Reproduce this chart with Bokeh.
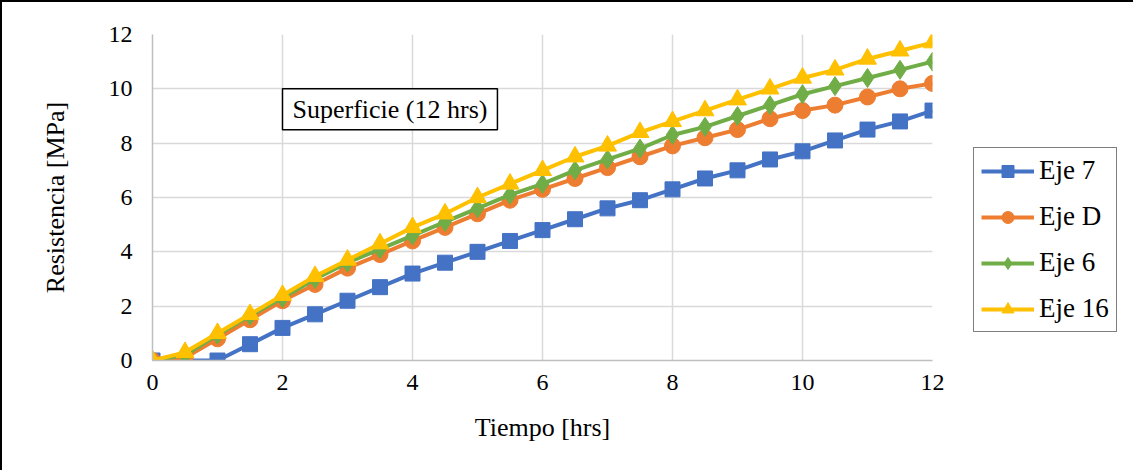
from bokeh.plotting import figure
from bokeh.models import Range1d, FixedTicker, Legend, LegendItem, Label
from bokeh.embed import file_html
from bokeh.resources import INLINE

# ---- data ----
tiempo = [0, 0.5, 1, 1.5, 2, 2.5, 3, 3.5, 4, 4.5, 5, 5.5, 6, 6.5, 7, 7.5, 8, 8.5, 9, 9.5, 10, 10.5, 11, 11.5, 12]
eje_7 = [0, 0, 0, 0.6, 1.2, 1.7, 2.2, 2.7, 3.2, 3.6, 4.0, 4.4, 4.8, 5.2, 5.6, 5.9, 6.3, 6.7, 7.0, 7.4, 7.7, 8.1, 8.5, 8.8, 9.2]
eje_d = [0, 0.1, 0.8, 1.5, 2.2, 2.8, 3.4, 3.9, 4.4, 4.9, 5.4, 5.9, 6.3, 6.7, 7.1, 7.5, 7.9, 8.2, 8.5, 8.9, 9.2, 9.4, 9.7, 10.0, 10.2]
eje_6 = [0, 0.2, 0.95, 1.65, 2.3, 3.0, 3.6, 4.1, 4.6, 5.1, 5.6, 6.1, 6.5, 7.0, 7.4, 7.8, 8.3, 8.6, 9.0, 9.4, 9.8, 10.1, 10.4, 10.7, 11.0]
eje_16 = [0, 0.3, 1.0, 1.7, 2.4, 3.1, 3.7, 4.3, 4.9, 5.4, 6.0, 6.5, 7.0, 7.5, 7.9, 8.4, 8.8, 9.2, 9.6, 10.0, 10.4, 10.7, 11.1, 11.4, 11.7]
series_names = ["Eje 7", "Eje D", "Eje 6", "Eje 16"]
ticks = [0, 2, 4, 6, 8, 10, 12]
annotation_text = "Superficie (12 hrs)"
x_title = "Tiempo [hrs]"
y_title = "Resistencia [MPa]"

FONT = "Liberation Serif"

p = figure(frame_width=780, frame_height=326,
           min_border_left=150, min_border_right=207, min_border_top=32, min_border_bottom=119,
           x_range=Range1d(0, 12), y_range=Range1d(0, 12),
           output_backend="svg", toolbar_location=None)
p.styles = {"border": "2px solid black"}
p.outline_line_color = None
p.background_fill_color = "white"
p.border_fill_color = "white"

for axes in (p.xaxis, p.yaxis):
    axes.ticker = FixedTicker(ticks=ticks)
    axes.major_tick_line_color = None
    axes.minor_tick_line_color = None
    axes.axis_line_color = "#BFBFBF"
    axes.axis_line_width = 1.5
    axes.major_label_text_font = FONT
    axes.major_label_text_font_size = "24px"
    axes.major_label_text_color = "black"
    axes.axis_label_text_font = FONT
    axes.axis_label_text_font_size = "26px"
    axes.axis_label_text_font_style = "normal"
    axes.axis_label_text_color = "black"

p.xaxis.axis_label = x_title
p.yaxis.axis_label = y_title
p.xaxis.major_label_standoff = 8
p.yaxis.major_label_standoff = 14
p.xaxis.axis_label_standoff = 20
p.yaxis.axis_label_standoff = 36

p.xgrid.ticker = FixedTicker(ticks=ticks)
p.ygrid.ticker = FixedTicker(ticks=ticks)
p.grid.grid_line_color = "#D9D9D9"
p.grid.grid_line_width = 1.5

colors = ["#4472C4", "#ED7D31", "#70AD47", "#FFC000"]
markers = ["square", "circle", "diamond", "triangle"]
sizes = [15, 16, 19, 18]
items = []
for name, ys, c, m, s in zip(series_names, [eje_7, eje_d, eje_6, eje_16], colors, markers, sizes):
    ln = p.line(tiempo, ys, line_color=c, line_width=4)
    sc = p.scatter(tiempo, ys, marker=m, size=s, fill_color=c, line_color=c)
    items.append(LegendItem(label=name, renderers=[ln, sc]))

legend = Legend(items=items, location=(41, 28),
                label_text_font=FONT, label_text_font_size="27px", label_text_color="black",
                glyph_width=53, glyph_height=30, label_height=30, label_standoff=5,
                spacing=15, padding=7, margin=0,
                border_line_color="black", border_line_width=1.5,
                background_fill_color="white", background_fill_alpha=1.0)
p.add_layout(legend, "right")

lbl = Label(x=2.0, y=10.0, text=annotation_text, anchor="top_left",
            text_font=FONT, text_font_size="26px", text_color="black",
            padding=(10, 6), border_line_color="black", border_line_width=1.5,
            background_fill_color="white")
p.add_layout(lbl)

open("out.html", "w").write(file_html(p, INLINE))
